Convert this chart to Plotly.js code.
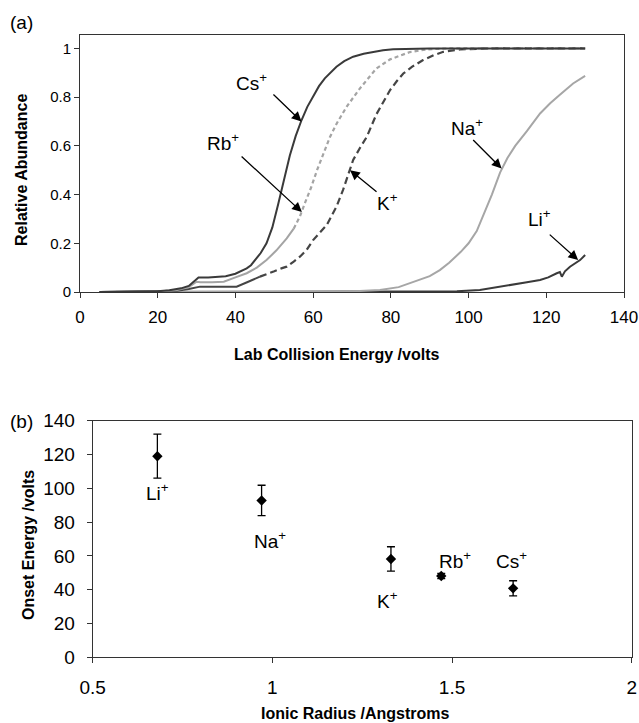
<!DOCTYPE html>
<html>
<head>
<meta charset="utf-8">
<script src="https://cdn.plot.ly/plotly-3.0.1.min.js"></script>
<style>html,body{margin:0;padding:0;background:#fff;}#chart{width:639px;height:723px;}</style>
</head>
<body>
<div id="chart"></div>
<script>
// ---- Panel (a): relative abundance vs lab collision energy ----
const csX = [5, 15, 20, 23, 26, 28, 29.6, 30.5, 33, 36, 37.5, 40, 42.9, 44, 45, 46.5, 48, 49.5, 51, 52.5, 54, 55.5, 57, 58.5, 60, 61.5, 63, 64.5, 66, 68, 70.3, 73, 75.5, 78, 80.6, 85, 90, 100, 115, 130];
const csY = [0, 0.001, 0.003, 0.007, 0.015, 0.025, 0.049, 0.06, 0.06, 0.062, 0.065, 0.075, 0.097, 0.11, 0.13, 0.16, 0.2, 0.265, 0.36, 0.46, 0.56, 0.64, 0.705, 0.76, 0.805, 0.845, 0.877, 0.903, 0.925, 0.948, 0.966, 0.978, 0.986, 0.992, 0.996, 0.999, 1, 1, 1, 1];

const rbX = [5, 15, 20, 25, 28, 30, 31, 34, 37, 40, 42.9, 45.5, 48, 50.5, 53.2, 55, 56.6, 58, 59.5, 61, 62.6, 64.3, 66, 68.6, 72, 76.3, 79.8, 84.9, 89.2, 95, 110, 130];
const rbY = [0, 0.001, 0.002, 0.008, 0.02, 0.042, 0.04, 0.04, 0.042, 0.06, 0.077, 0.1, 0.131, 0.17, 0.22, 0.26, 0.31, 0.37, 0.43, 0.5, 0.569, 0.635, 0.69, 0.76, 0.835, 0.918, 0.955, 0.985, 0.996, 1, 1, 1];

const kX = [5, 15, 20, 25, 28, 30.9, 33, 36, 40.3, 43, 46.3, 48, 50, 52, 53.2, 55, 56.6, 58.3, 60, 61.8, 63.5, 65, 66, 67.7, 69, 70.3, 72, 73.8, 76.3, 78, 79.8, 81.5, 83.2, 85.5, 88.3, 91, 93.5, 97.8, 105, 130];
const kY = [0, 0.001, 0.002, 0.005, 0.012, 0.022, 0.022, 0.022, 0.022, 0.04, 0.063, 0.072, 0.085, 0.098, 0.104, 0.125, 0.145, 0.172, 0.213, 0.245, 0.275, 0.32, 0.35, 0.419, 0.48, 0.542, 0.59, 0.637, 0.73, 0.78, 0.829, 0.865, 0.897, 0.925, 0.952, 0.972, 0.986, 0.996, 1, 1];

const naX = [5, 40, 60, 67.7, 72, 77.2, 82, 85.8, 90, 92.6, 95, 98, 100, 102.1, 104, 106, 108.1, 110, 112, 115, 118.4, 121, 123.5, 126.9, 130];
const naY = [0, 0, 0, 0.002, 0.004, 0.008, 0.02, 0.042, 0.065, 0.09, 0.12, 0.165, 0.2, 0.25, 0.32, 0.4, 0.49, 0.55, 0.6, 0.66, 0.733, 0.775, 0.81, 0.856, 0.887];

const liX = [5, 60, 91, 97, 102.9, 107, 111.5, 115, 118.4, 120.5, 122.7, 123.5, 124, 124.8, 126.1, 127.5, 128.7, 130];
const liY = [0, 0, 0, 0.003, 0.008, 0.018, 0.029, 0.04, 0.049, 0.06, 0.077, 0.082, 0.063, 0.085, 0.104, 0.118, 0.131, 0.152];

// labels and arrows for panel (a)
const aLabels = ["Cs<sup>+</sup>", "Rb<sup>+</sup>", "K<sup>+</sup>", "Na<sup>+</sup>", "Li<sup>+</sup>"];
const aLabelX = [44.2, 36.7, 79.1, 99.5, 118.2];
const aLabelY = [0.863, 0.617, 0.37, 0.678, 0.302];
const aTailX = [49.4, 41.2, 76.7, 100.8, 120.5];
const aTailY = [0.817, 0.562, 0.406, 0.63, 0.241];
const aTipX = [57.0, 57.1, 69.5, 108.5, 128.2];
const aTipY = [0.70, 0.328, 0.50, 0.507, 0.131];

// ---- Panel (b): onset energy vs ionic radius ----
const ions = ["Li<sup>+</sup>", "Na<sup>+</sup>", "K<sup>+</sup>", "Rb<sup>+</sup>", "Cs<sup>+</sup>"];
const radius = [0.68, 0.97, 1.33, 1.47, 1.67];
const onset = [119, 92.8, 58.2, 48.1, 40.8];
const onsetErr = [13, 9, 7.2, 1.5, 4.5];
const bLabelX = [0.68, 0.994, 1.32, 1.508, 1.666];
const bLabelY = [98, 69.5, 34, 57.6, 57.6];

const FONT = "Liberation Sans, Arial, sans-serif";
const W = 639, H = 723;
const px = v => v / W;
const py = v => 1 - v / H;

// split a series at an x threshold (solid low part, dashed upper part like the original)
function part(xs, ys, lo, hi) {
  const ox = [], oy = [];
  xs.forEach((v, i) => { if (v >= lo && v <= hi) { ox.push(v); oy.push(ys[i]); } });
  return [ox, oy];
}
const [rbLoX, rbLoY] = part(rbX, rbY, 0, 55);
const [rbHiX, rbHiY] = part(rbX, rbY, 55, 200);
const [kLoX, kLoY] = part(kX, kY, 0, 46.3);
const [kHiX, kHiY] = part(kX, kY, 46.3, 200);

const traces = [
  {x: liX, y: liY, mode: "lines", line: {color: "#3a3a3a", width: 2}, xaxis: "x", yaxis: "y"},
  {x: naX, y: naY, mode: "lines", line: {color: "#a6a6a6", width: 2}, xaxis: "x", yaxis: "y"},
  {x: kLoX, y: kLoY, mode: "lines", line: {color: "#454545", width: 2}, xaxis: "x", yaxis: "y"},
  {x: kHiX, y: kHiY, mode: "lines", line: {color: "#454545", width: 2.2, dash: "7px,4px"}, xaxis: "x", yaxis: "y"},
  {x: rbLoX, y: rbLoY, mode: "lines", line: {color: "#a4a4a4", width: 2}, xaxis: "x", yaxis: "y"},
  {x: rbHiX, y: rbHiY, mode: "lines", line: {color: "#a4a4a4", width: 2.2, dash: "4px,3px"}, xaxis: "x", yaxis: "y"},
  {x: csX, y: csY, mode: "lines", line: {color: "#3a3a3a", width: 2}, xaxis: "x", yaxis: "y"},
  {x: radius, y: onset, mode: "markers",
   marker: {symbol: "diamond", size: 8, color: "#000"},
   error_y: {type: "data", array: onsetErr, visible: true, color: "#000", thickness: 1.3, width: 4},
   xaxis: "x2", yaxis: "y2"}
];

const annotations = [];
for (let i = 0; i < aLabels.length; i++) {
  annotations.push({xref: "x", yref: "y", x: aLabelX[i], y: aLabelY[i], text: aLabels[i],
    xanchor: "center", yanchor: "middle",
    showarrow: false, font: {family: FONT, size: 19, color: "#000"}});
  annotations.push({xref: "x", yref: "y", axref: "x", ayref: "y",
    x: aTipX[i], y: aTipY[i], ax: aTailX[i], ay: aTailY[i], text: "",
    showarrow: true, arrowhead: 2, arrowsize: 1.5, arrowwidth: 1.3, arrowcolor: "#000"});
}
for (let i = 0; i < ions.length; i++) {
  annotations.push({xref: "x2", yref: "y2", x: bLabelX[i], y: bLabelY[i], text: ions[i],
    xanchor: "center", yanchor: "middle",
    showarrow: false, font: {family: FONT, size: 19, color: "#000"}});
}
const paperText = (x, y, text, size, extra) => Object.assign({xref: "paper", yref: "paper", x: px(x), y: py(y),
  xanchor: "center", yanchor: "middle", text: text, showarrow: false,
  font: {family: FONT, size: size, color: "#000"}}, extra || {});
annotations.push(
  paperText(336, 354, "<b>Lab Collision Energy /volts</b>", 16),
  paperText(21, 170, "<b>Relative Abundance</b>", 16, {textangle: -90}),
  paperText(355, 713, "<b>Ionic Radius /Angstroms</b>", 16),
  paperText(28, 545, "<b>Onset Energy /volts</b>", 16, {textangle: -90}),
  paperText(8, 22, "(a)", 19, {xanchor: "left"}),
  paperText(8, 421, "(b)", 19, {xanchor: "left"})
);

const axisCommon = {showgrid: false, zeroline: false, showline: true, linecolor: "#333", linewidth: 1,
  mirror: true, ticks: "outside", ticklen: 5, tickcolor: "#333", tickwidth: 1};

const layout = {
  width: W, height: H,
  margin: {l: 0, r: 0, t: 0, b: 0},
  paper_bgcolor: "#fff", plot_bgcolor: "#fff",
  showlegend: false,
  font: {family: FONT, color: "#000"},
  xaxis: Object.assign({}, axisCommon, {domain: [px(80), px(624)], range: [0, 140], tickvals: [0, 20, 40, 60, 80, 100, 120, 140],
    tickfont: {family: FONT, size: 17}, ticklabelstandoff: 5, anchor: "y"}),
  yaxis: Object.assign({}, axisCommon, {domain: [py(292), py(35)], range: [0, 1.055], tickvals: [0, 0.2, 0.4, 0.6, 0.8, 1],
    ticktext: ["0", "0.2", "0.4", "0.6", "0.8", "1"], tickfont: {family: FONT, size: 15}, anchor: "x"}),
  xaxis2: Object.assign({}, axisCommon, {domain: [px(92.7), px(631.7)], range: [0.5, 2], tickvals: [0.5, 1, 1.5, 2],
    tickfont: {family: FONT, size: 19}, ticklabelstandoff: 8, anchor: "y2"}),
  yaxis2: Object.assign({}, axisCommon, {domain: [py(657.3), py(420.7)], range: [0, 140], tickvals: [0, 20, 40, 60, 80, 100, 120, 140],
    tickfont: {family: FONT, size: 19}, ticklabelstandoff: 8, anchor: "x2"}),
  annotations: annotations
};

Plotly.newPlot("chart", traces, layout, {staticPlot: true, displayModeBar: false});
</script>
</body>
</html>
